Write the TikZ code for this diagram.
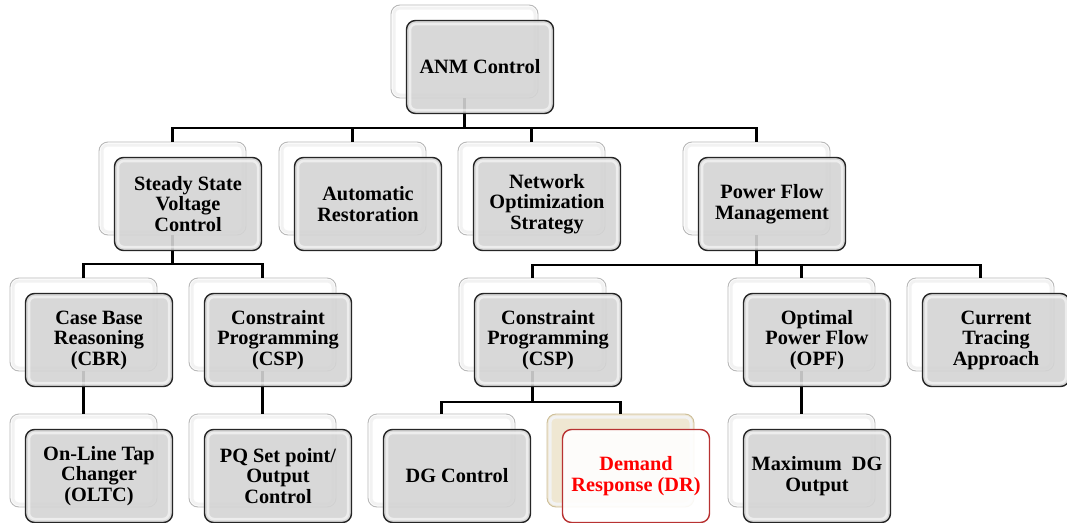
\documentclass[tikz,border=0pt]{standalone}
\usepackage{fontspec}
\setmainfont{Liberation Serif}
\usetikzlibrary{calc}
\definecolor{drback}{HTML}{EFE7D2}
\definecolor{drbackline}{HTML}{CDBF9A}
\definecolor{drborder}{HTML}{B83232}
\definecolor{drtext}{HTML}{FF0000}
\definecolor{frontfill}{HTML}{D4D4D4}
\begin{document}
\begin{tikzpicture}[x=1pt,y=-1pt,
  backbox/.style={draw=black!28, line width=0.9pt, fill=white, rounded corners=9pt,
    minimum width=147pt, minimum height=93pt, inner sep=0pt, outer sep=0pt, anchor=north west,
    path picture={\draw[black!5,line width=3pt,rounded corners=6pt]
      ([shift={(3pt,-3pt)}]path picture bounding box.north west) rectangle
      ([shift={(-3pt,3pt)}]path picture bounding box.south east);}},
  frontbox/.style={draw=black!85, line width=1.4pt, fill=frontfill, fill opacity=0.9, text opacity=1,
    rounded corners=9pt, minimum width=147pt, minimum height=93pt, inner sep=0pt, outer sep=0pt,
    anchor=north west, align=center, text=black,
    font=\bfseries\fontsize{20.3}{20.5}\selectfont,
    path picture={\draw[white,opacity=0.55,line width=2.5pt,rounded corners=6pt]
      ([shift={(3.5pt,-3.5pt)}]path picture bounding box.north west) rectangle
      ([shift={(-3.5pt,3.5pt)}]path picture bounding box.south east);}},
  conn/.style={line width=2.4pt, draw=black}
]
\clip (0,0) rectangle (1067,522);
\fill[white] (0,0) rectangle (1067,522);

% back boxes
\node[backbox] (anmb)  at (391,5) {};
\node[backbox] (ssb)   at (99,142) {};
\node[backbox] (arb)   at (279,142) {};
\node[backbox] (nob)   at (458,142) {};
\node[backbox] (pfb)   at (683,142) {};
\node[backbox] (cbrb)  at (10,278) {};
\node[backbox] (csplb) at (189,278) {};
\node[backbox] (cspmb) at (459,278) {};
\node[backbox] (opfb)  at (728,278) {};
\node[backbox] (ctb)   at (907,278) {};
\node[backbox] (oltcb) at (10,414) {};
\node[backbox] (pqb)   at (189,414) {};
\node[backbox] (dgb)   at (368,414) {};
\node[backbox, fill=drback, draw=drbackline] (drb) at (547,414) {};
\node[backbox] (mdgb)  at (728,414) {};

% connectors
\coordinate (busA) at (464.5,128);
\draw[conn] (anmb.south) -- (busA);
\draw[conn] (ssb.north) |- (busA) -| (pfb.north);
\draw[conn] (arb.north) -- (arb.north |- busA);
\draw[conn] (nob.north) -- (nob.north |- busA);

\coordinate (busB) at (172.5,264);
\draw[conn] (ssb.south) -- (busB);
\draw[conn] (cbrb.north) |- (busB) -| (csplb.north);

\coordinate (busC) at (756.5,265);
\draw[conn] (pfb.south) -- (busC);
\draw[conn] (cspmb.north) |- (busC) -| (ctb.north);
\draw[conn] (opfb.north) -- (opfb.north |- busC);

\coordinate (busD) at (532.5,402);
\draw[conn] (cspmb.south) -- (busD);
\draw[conn] (dgb.north) |- (busD) -| (drb.north);

\draw[conn] (cbrb.south) -- (oltcb.north);
\draw[conn] (csplb.south) -- (pqb.north);
\draw[conn] (opfb.south) -- (mdgb.north);

% front boxes
\node[frontbox] (anm)  at (406.5,20.5) {ANM Control};
\node[frontbox] (ss)   at (114.5,157.5) {Steady State\\Voltage\\Control};
\node[frontbox] (ar)   at (294.5,157.5) {Automatic\\Restoration};
\node[frontbox] (no)   at (473.5,157.5) {Network\\Optimization\\Strategy};
\node[frontbox] (pf)   at (698.5,157.5) {Power Flow\\Management};
\node[frontbox] (cbr)  at (25.5,293.5) {Case Base\\Reasoning\\(CBR)};
\node[frontbox] (cspl) at (204.5,293.5) {Constraint\\Programming\\(CSP)};
\node[frontbox] (cspm) at (474.5,293.5) {Constraint\\Programming\\(CSP)};
\node[frontbox] (opf)  at (743.5,293.5) {Optimal\\Power Flow\\(OPF)};
\node[frontbox] (ct)   at (922.5,293.5) {Current\\Tracing\\Approach};
\node[frontbox] (oltc) at (25.5,429.5) {On-Line Tap\\Changer\\(OLTC)};
\node[frontbox] (pq)   at (204.5,429.5) {PQ Set point/\\Output\\Control};
\node[frontbox] (dg)   at (383.5,429.5) {DG Control};
\node[frontbox, fill=white, draw=drborder, text=drtext] (dr) at (562.5,429.5) {Demand\\Response (DR)};
\node[frontbox] (mdg)  at (743.5,429.5) {Maximum\ \ DG\\Output};
\end{tikzpicture}
\end{document}
